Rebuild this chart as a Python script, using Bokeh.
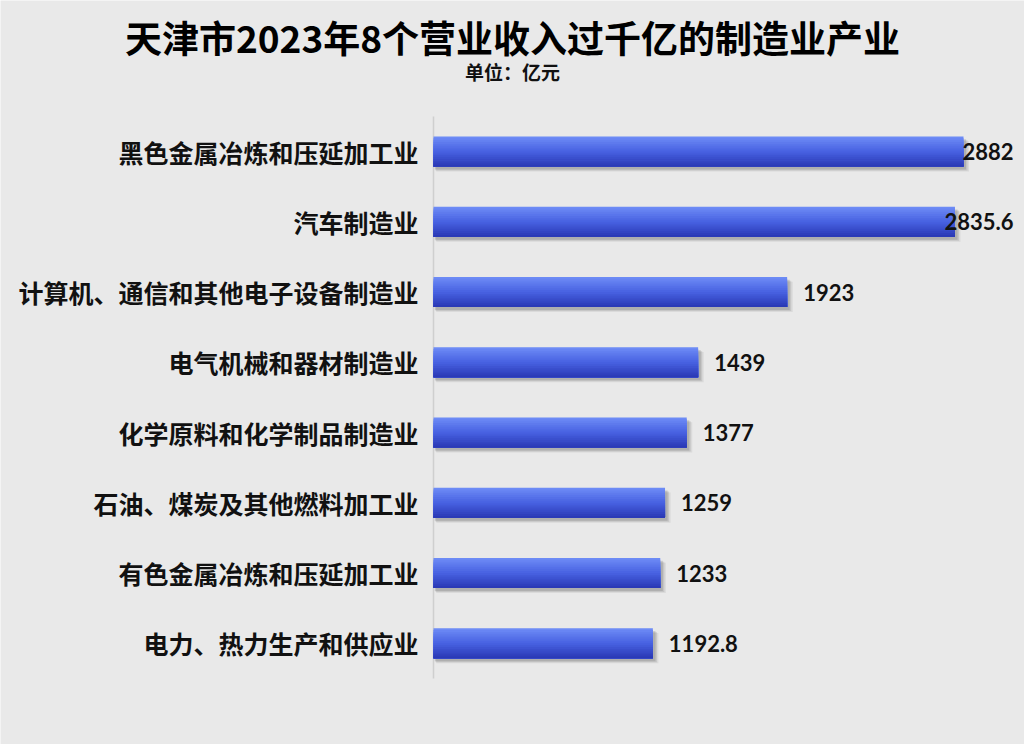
from bokeh.plotting import figure
from bokeh.models import Range1d, ColumnDataSource
from bokeh.embed import file_html
from bokeh.resources import INLINE
from bokeh.core.properties import value

# ---- data ----
categories = ["黑色金属冶炼和压延加工业", "汽车制造业", "计算机、通信和其他电子设备制造业",
              "电气机械和器材制造业", "化学原料和化学制品制造业", "石油、煤炭及其他燃料加工业",
              "有色金属冶炼和压延加工业", "电力、热力生产和供应业"]
revenue = [2882, 2835.6, 1923, 1439, 1377, 1259, 1233, 1192.8]
value_labels = ["2882", "2835.6", "1923", "1439", "1377", "1259", "1233", "1192.8"]
title_text = "天津市2023年8个营业收入过千亿的制造业产业"
unit_text = "单位：亿元"

# ---- layout constants (pixels) ----
W, H = 1024, 744
ZERO_PX = 433          # x pixel of value 0
PX_PER_UNIT = 0.1839   # pixels per 亿元
ROW_PX = 70.25         # pixels per category row
ROW0_PX = 151          # y pixel (from top) of first row centre
LABEL_RIGHT_PX = 1013  # right edge for clamped value labels

BG = "#e9e9e9"
CJK = "Noto Sans CJK SC"
n = len(categories)
idx = list(range(n))

x_start = -ZERO_PX / PX_PER_UNIT
x_end = (W - ZERO_PX) / PX_PER_UNIT
y_top = -ROW0_PX / ROW_PX
y_bot = y_top + H / ROW_PX


def xd(px):
    return (px - ZERO_PX) / PX_PER_UNIT


def yd(py):
    return y_top + py / ROW_PX


p = figure(width=W, height=H, output_backend="svg", toolbar_location=None,
           x_range=Range1d(x_start, x_end), y_range=Range1d(y_bot, y_top),
           min_border=0)
p.background_fill_color = BG
p.border_fill_color = BG
p.outline_line_color = None
p.grid.visible = False
p.axis.visible = False

# axis line
p.segment(x0=[0], y0=[-0.5], x1=[0], y1=[n - 0.5], line_color="#cfcfcf", line_width=1.5)

BAR_H = 0.43
# soft shadow, offset down-right
for dx, dy, a in [(30, 0.07, 0.10), (22, 0.055, 0.15), (14, 0.04, 0.2)]:
    p.hbar(y=[i + dy for i in idx], right=[v + dx for v in revenue], left=dx * 0.5,
           height=BAR_H, fill_color="#555555", fill_alpha=a, line_color=None)

# gradient bars via overlapping stripes (top light -> bottom dark)
top_c = (112, 142, 247)
mid_c = (72, 98, 226)
bot_c = (42, 56, 180)
N = 16
for k in range(N):
    t = (k + 0.5) / N
    if t < 0.5:
        s = t / 0.5
        c = tuple(int(top_c[j] + (mid_c[j] - top_c[j]) * s) for j in range(3))
    else:
        s = (t - 0.5) / 0.5
        c = tuple(int(mid_c[j] + (bot_c[j] - mid_c[j]) * s) for j in range(3))
    color = "#%02x%02x%02x" % c
    hh = BAR_H - k * BAR_H / N
    yc = [i + BAR_H / 2 - hh / 2 for i in idx]
    p.hbar(y=yc, right=revenue, left=0, height=hh, fill_color=color, line_color=None)

# category labels
p.text(x=[0] * n, y=idx, text=categories, x_offset=-15, text_align="right",
       text_baseline="middle", text_font=value(CJK), text_font_style="bold",
       text_font_size="25px", text_color="#111111")

# value labels (clamped to the right edge when they would overflow)
label_end = xd(LABEL_RIGHT_PX)
fits = [v + (16 + 70) / PX_PER_UNIT < label_end for v in revenue]
src_l = ColumnDataSource(dict(x=[v for v, f in zip(revenue, fits) if f],
                              y=[i for i, f in zip(idx, fits) if f],
                              t=[s for s, f in zip(value_labels, fits) if f]))
src_r = ColumnDataSource(dict(x=[label_end for f in fits if not f],
                              y=[i for i, f in zip(idx, fits) if not f],
                              t=[s for s, f in zip(value_labels, fits) if not f]))
p.text(x="x", y="y", text="t", source=src_l, x_offset=16, text_align="left",
       text_baseline="middle", text_font=value("Lato"), text_font_style="bold",
       text_font_size="22px", text_color="#111111")
p.text(x="x", y="y", text="t", source=src_r, text_align="right",
       text_baseline="middle", text_font=value("Lato"), text_font_style="bold",
       text_font_size="22px", text_color="#111111")

# titles
p.text(x=[xd(W / 2)], y=[yd(36)], text=[title_text], text_align="center",
       text_baseline="middle", text_font=value(CJK), text_font_style="bold",
       text_font_size="37px", text_color="#000000")
p.text(x=[xd(W / 2)], y=[yd(71)], text=[unit_text], text_align="center",
       text_baseline="middle", text_font=value(CJK), text_font_style="bold",
       text_font_size="19px", text_color="#111111")

open("out.html", "w").write(file_html(p, INLINE))
